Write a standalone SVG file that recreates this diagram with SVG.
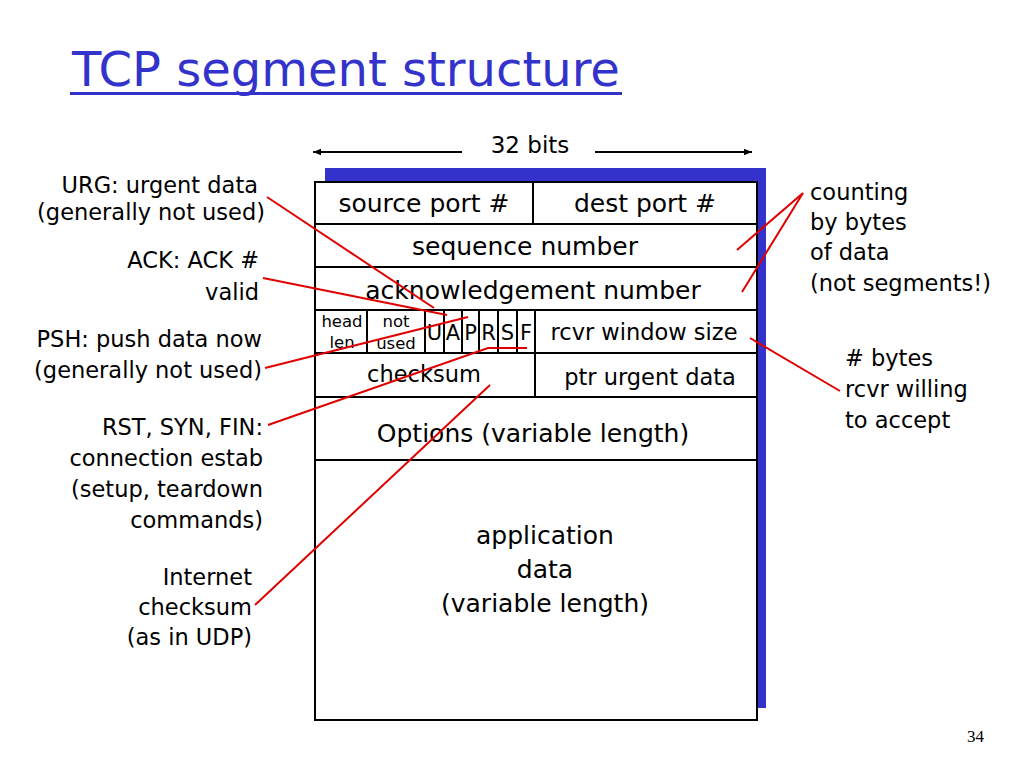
<svg xmlns="http://www.w3.org/2000/svg" width="1024" height="768" viewBox="0 0 1024 768">
<defs>
<style>
text{font-family:"DejaVu Sans","Noto Sans",sans-serif;fill:#000}
.cell{fill:#fff;stroke:#000;stroke-width:2}
.c{text-anchor:middle;font-size:25px}
.lbl{font-size:22.5px}
.r{text-anchor:end}
.flag{text-anchor:middle;font-size:21px}
.small{text-anchor:middle;font-size:16.5px}
.red{stroke:#e00000;stroke-width:2;fill:none}
.blk{stroke:#000;stroke-width:2;fill:none}
</style>
<marker id="ah" viewBox="0 0 10 10" refX="10" refY="5" markerWidth="10" markerHeight="8" orient="auto" markerUnits="userSpaceOnUse">
<path d="M0,1 L10,5 L0,9 z" fill="#000"/>
</marker>
</defs>
<rect width="1024" height="768" fill="#fff"/>
<g id="title">
<text x="72" y="86" style="font-size:48px;fill:#3333cc">TCP segment structure</text>
<rect x="70" y="92" width="552" height="3" fill="#3333cc"/>
</g>
<g id="width">
<text x="530" y="153" style="text-anchor:middle;font-size:23px">32 bits</text>
<line x1="462" y1="152" x2="313" y2="152" class="blk" marker-end="url(#ah)"/>
<line x1="595" y1="152" x2="752" y2="152" class="blk" marker-end="url(#ah)"/>
</g>
<g id="segment">
<rect x="325" y="168" width="441" height="540" fill="#3333cc"/>
<rect x="315" y="182" width="442" height="538" class="cell"/>
<line x1="315" y1="224" x2="757" y2="224" class="blk"/>
<line x1="315" y1="267" x2="757" y2="267" class="blk"/>
<line x1="315" y1="310" x2="757" y2="310" class="blk"/>
<line x1="315" y1="353" x2="757" y2="353" class="blk"/>
<line x1="315" y1="397" x2="757" y2="397" class="blk"/>
<line x1="315" y1="460" x2="757" y2="460" class="blk"/>
<line x1="533" y1="182" x2="533" y2="224" class="blk"/>
<line x1="367" y1="310" x2="367" y2="353" class="blk"/>
<line x1="425" y1="310" x2="425" y2="353" class="blk"/>
<line x1="444" y1="310" x2="444" y2="353" class="blk"/>
<line x1="462" y1="310" x2="462" y2="353" class="blk"/>
<line x1="479" y1="310" x2="479" y2="353" class="blk"/>
<line x1="498" y1="310" x2="498" y2="353" class="blk"/>
<line x1="517" y1="310" x2="517" y2="353" class="blk"/>
<line x1="535" y1="310" x2="535" y2="397" class="blk"/>
<text x="424" y="212" class="c">source port #</text>
<text x="645" y="212" class="c">dest port #</text>
<text x="525" y="255" class="c">sequence number</text>
<text x="533" y="299" class="c">acknowledgement number</text>
<text x="342" y="327" class="small">head</text>
<text x="342" y="348" class="small">len</text>
<text x="396" y="327" class="small">not</text>
<text x="396" y="349" class="small">used</text>
<text x="434.5" y="340" class="flag">U</text>
<text x="453" y="340" class="flag">A</text>
<text x="470.5" y="340" class="flag">P</text>
<text x="488.5" y="340" class="flag">R</text>
<text x="507.5" y="340" class="flag">S</text>
<text x="526" y="340" class="flag">F</text>
<text x="644" y="340" class="c" style="font-size:22.5px">rcvr window size</text>
<text x="424" y="382" class="c" style="font-size:22.5px">checksum</text>
<text x="650" y="385" class="c" style="font-size:22.5px">ptr urgent data</text>
<text x="533" y="442" class="c">Options (variable length)</text>
<text x="545" y="544" class="c">application</text>
<text x="545" y="578" class="c">data</text>
<text x="545" y="612" class="c">(variable length)</text>
</g>
<g id="urg">
<text x="258" y="193" class="lbl r">URG: urgent data</text>
<text x="265" y="220" class="lbl r">(generally not used)</text>
</g>
<g id="ack">
<text x="259" y="268" class="lbl r">ACK: ACK #</text>
<text x="259" y="300" class="lbl r">valid</text>
</g>
<g id="psh">
<text x="262" y="347" class="lbl r">PSH: push data now</text>
<text x="262" y="378" class="lbl r">(generally not used)</text>
</g>
<g id="rst">
<text x="263" y="435" class="lbl r">RST, SYN, FIN:</text>
<text x="263" y="466" class="lbl r">connection estab</text>
<text x="263" y="497" class="lbl r">(setup, teardown</text>
<text x="263" y="528" class="lbl r">commands)</text>
</g>
<g id="inet">
<text x="252" y="585" class="lbl r">Internet</text>
<text x="252" y="615" class="lbl r">checksum</text>
<text x="252" y="645" class="lbl r">(as in UDP)</text>
</g>
<g id="counting">
<text x="810" y="200" class="lbl">counting</text>
<text x="810" y="230" class="lbl">by bytes</text>
<text x="810" y="260" class="lbl">of data</text>
<text x="810" y="291" class="lbl">(not segments!)</text>
</g>
<g id="rcvr">
<text x="845" y="366" class="lbl"># bytes</text>
<text x="845" y="397" class="lbl">rcvr willing</text>
<text x="845" y="428" class="lbl">to accept</text>
</g>
<g id="page">
<text x="967" y="742" style="font-family:'Liberation Serif',serif;font-size:17px">34</text>
</g>
<g id="connectors">
<polyline points="267,197 434,308" class="red"/>
<polyline points="263,278 447,315" class="red"/>
<polyline points="265,368 468,317" class="red"/>
<polyline points="268,425 488,348 527,348" class="red"/>
<polyline points="255,605 490,385" class="red"/>
<polyline points="737,250 803,193 742,292" class="red"/>
<polyline points="750,338 840,391" class="red"/>
</g>
</svg>
